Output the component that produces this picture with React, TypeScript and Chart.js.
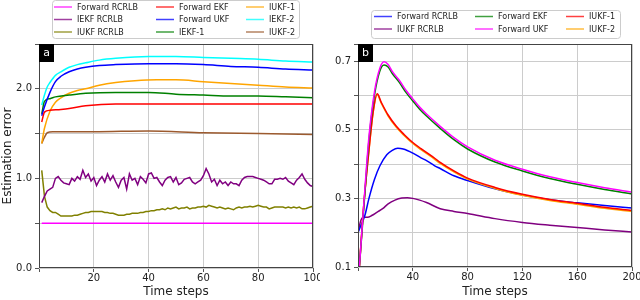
import React, { useEffect, useRef } from 'react';
import { Chart, registerables } from 'chart.js';
Chart.register(...registerables);
Chart.defaults.font.family = '"DejaVu Sans", sans-serif';

// ---------- Panel a data ----------
const stepsA = Array.from({ length: 100 }, (_, i) => i + 1);
const fwdRcrlbAX = [1, 100];
const fwdRcrlbAY = [0.5, 0.5];
const iekfRcrlbA = [
  0.73, 0.80, 0.86, 0.88, 0.90, 1.00, 1.02, 0.98, 0.95, 0.94,
  0.93, 1.00, 0.97, 1.02, 0.99, 1.09, 1.01, 1.05, 0.97, 1.01,
  0.92, 0.98, 1.02, 0.96, 1.05, 0.98, 1.03, 0.96, 0.90, 0.98,
  1.01, 0.88, 1.05, 0.98, 1.00, 0.93, 1.02, 0.99, 0.95, 1.05,
  1.06, 1.00, 1.01, 0.96, 0.92, 0.98, 1.01, 1.02, 0.96, 1.01,
  0.93, 0.95, 0.99, 1.00, 1.01, 0.96, 0.94, 0.96, 0.98, 1.03,
  1.11, 1.05, 0.96, 0.99, 0.92, 0.98, 0.94, 0.96, 0.92, 0.96,
  0.94, 0.94, 0.92, 0.98, 1.01, 1.02, 1.02, 1.02, 1.01, 1.00,
  0.99, 0.98, 0.96, 0.94, 0.94, 0.99, 0.99, 1.00, 0.99, 1.01,
  0.97, 0.95, 0.93, 0.98, 1.01, 1.05, 0.99, 0.95, 0.92, 0.91,
];
const iukfRcrlbA = [
  1.09, 0.80, 0.68, 0.64, 0.62, 0.62, 0.60, 0.58, 0.58, 0.58,
  0.58, 0.58, 0.59, 0.59, 0.60, 0.61, 0.62, 0.62, 0.63, 0.63,
  0.63, 0.63, 0.63, 0.62, 0.62, 0.61, 0.61, 0.60, 0.59, 0.59,
  0.59, 0.60, 0.60, 0.61, 0.61, 0.61, 0.62, 0.62, 0.63, 0.63,
  0.64, 0.64, 0.65, 0.65, 0.66, 0.65, 0.67, 0.66, 0.67, 0.68,
  0.66, 0.67, 0.67, 0.68, 0.66, 0.67, 0.67, 0.68, 0.68, 0.69,
  0.68, 0.70, 0.69, 0.68, 0.67, 0.68, 0.67, 0.66, 0.67, 0.66,
  0.65, 0.67, 0.68, 0.67, 0.68, 0.68, 0.69, 0.68, 0.69, 0.70,
  0.69, 0.68, 0.68, 0.66, 0.67, 0.68, 0.68, 0.68, 0.68, 0.67,
  0.68, 0.67, 0.68, 0.67, 0.68, 0.66, 0.66, 0.67, 0.68, 0.69,
];
const fwdEkfAX = [1, 2, 4, 8, 11, 17, 28, 40, 60, 80, 100];
const fwdEkfAY = [1.63, 1.74, 1.76, 1.77, 1.78, 1.81, 1.83, 1.83, 1.83, 1.83, 1.83];
const fwdUkfAX = [1, 2, 4, 6, 8, 11, 14, 17, 22, 28, 40, 50, 60, 70, 80, 90, 100];
const fwdUkfAY = [1.70, 1.80, 1.96, 2.08, 2.14, 2.19, 2.22, 2.24, 2.26, 2.27, 2.28, 2.28, 2.27, 2.25, 2.24, 2.22, 2.21];
const iekf1AX = [1, 2, 4, 6, 11, 17, 28, 40, 50, 60, 70, 80, 90, 100];
const iekf1AY = [1.72, 1.86, 1.89, 1.91, 1.93, 1.95, 1.96, 1.96, 1.94, 1.93, 1.92, 1.92, 1.91, 1.90];
const iukf1AX = [1, 2, 4, 6, 8, 11, 14, 17, 22, 28, 35, 43, 50, 60, 70, 80, 90, 100];
const iukf1AY = [1.39, 1.56, 1.75, 1.85, 1.90, 1.95, 1.98, 2.00, 2.04, 2.07, 2.09, 2.10, 2.10, 2.08, 2.06, 2.04, 2.02, 2.01];
const iekf2AX = [1, 2, 3, 4, 6, 8, 11, 14, 17, 22, 28, 40, 50, 60, 70, 80, 90, 100];
const iekf2AY = [1.82, 1.93, 2.02, 2.07, 2.15, 2.19, 2.24, 2.27, 2.29, 2.32, 2.34, 2.36, 2.36, 2.35, 2.34, 2.33, 2.31, 2.30];
const iukf2AX = [1, 2, 3, 5, 10, 20, 40, 60, 80, 100];
const iukf2AY = [1.39, 1.46, 1.51, 1.52, 1.52, 1.52, 1.53, 1.51, 1.50, 1.49];

// ---------- Panel b data ----------
const fwdRcrlbBX = [0, 2, 5, 8, 12, 16, 21, 25, 29, 33, 40, 46, 50, 56, 60, 70, 80, 100, 120, 140, 160, 180, 200];
const fwdRcrlbBY = [0.20, 0.22, 0.25, 0.30, 0.355, 0.395, 0.427, 0.44, 0.446, 0.444, 0.432, 0.418, 0.41, 0.395, 0.387, 0.366, 0.352, 0.328, 0.31, 0.296, 0.287, 0.279, 0.272];
const iukfRcrlbBX = [0, 2, 4, 7, 10, 14, 18, 22, 27, 32, 36, 40, 45, 50, 60, 70, 80, 100, 120, 140, 160, 180, 200];
const iukfRcrlbBY = [0.20, 0.235, 0.245, 0.245, 0.25, 0.26, 0.27, 0.284, 0.295, 0.301, 0.302, 0.30, 0.295, 0.288, 0.27, 0.262, 0.256, 0.241, 0.23, 0.222, 0.215, 0.208, 0.202];
const ukfFamilyBX = [1, 4, 8, 12, 16, 19, 22, 25, 30, 35, 40, 45, 50, 60, 70, 80, 100, 120, 140, 160, 180, 200];
const fwdUkfBY = [0.10, 0.27, 0.48, 0.61, 0.68, 0.698, 0.69, 0.67, 0.645, 0.615, 0.59, 0.566, 0.546, 0.51, 0.477, 0.45, 0.411, 0.385, 0.363, 0.346, 0.331, 0.318];
const fwdEkfBY = [0.10, 0.26, 0.47, 0.60, 0.672, 0.689, 0.683, 0.664, 0.639, 0.609, 0.584, 0.56, 0.54, 0.504, 0.471, 0.444, 0.406, 0.38, 0.358, 0.341, 0.326, 0.313];
const iukfBX = [1, 4, 8, 11, 14, 17, 22, 28, 34, 40, 46, 56, 60, 70, 80, 100, 120, 140, 160, 180, 200];
const iukf1BY = [0.10, 0.27, 0.44, 0.55, 0.605, 0.58, 0.543, 0.51, 0.485, 0.463, 0.445, 0.417, 0.405, 0.38, 0.359, 0.332, 0.312, 0.297, 0.286, 0.274, 0.265];
const iukf2BY = [0.10, 0.27, 0.44, 0.55, 0.602, 0.577, 0.54, 0.507, 0.482, 0.46, 0.442, 0.414, 0.402, 0.377, 0.356, 0.329, 0.309, 0.294, 0.283, 0.271, 0.262];

const pts = (xs: number[], ys: number[]) => ys.map((y, i) => ({ x: xs[i], y }));

const line = (label: string, color: string, data: any[], smooth = true, order = 0) => ({
  label,
  data,
  borderColor: color,
  backgroundColor: color,
  borderWidth: 1.5,
  pointRadius: 0,
  fill: false,
  cubicInterpolationMode: smooth ? 'monotone' : 'default',
  tension: 0,
  order,
});

const decorPlugin = {
  id: 'panelDecor',
  afterDatasetsDraw(chart: any, _args: any, opts: any) {
    const { ctx, chartArea: a } = chart;
    ctx.save();
    ctx.strokeStyle = '#444';
    ctx.lineWidth = 1;
    ctx.strokeRect(Math.round(a.left) + 0.5, Math.round(a.top) + 0.5, Math.round(a.right - a.left) - 1, Math.round(a.bottom - a.top) - 1);
    ctx.fillStyle = '#000';
    ctx.fillRect(a.left, a.top, 15, 18);
    ctx.fillStyle = '#fff';
    ctx.font = '11px "DejaVu Sans"';
    ctx.textAlign = 'center';
    ctx.textBaseline = 'middle';
    ctx.fillText(opts.tag, a.left + 7.5, a.top + 9);
    ctx.restore();
  },
  afterDraw(chart: any, _args: any, opts: any) {
    const { ctx } = chart;
    const L = opts.legend;
    ctx.save();
    ctx.fillStyle = 'rgba(255,255,255,0.85)';
    ctx.strokeStyle = '#cccccc';
    ctx.lineWidth = 1;
    ctx.beginPath();
    (ctx as any).roundRect(L.x + 0.5, L.y + 0.5, L.w, L.h, 3);
    ctx.fill();
    ctx.stroke();
    ctx.font = '8px "DejaVu Sans"';
    ctx.textAlign = 'left';
    ctx.textBaseline = 'middle';
    chart.data.datasets.forEach((ds: any, i: number) => {
      const col = Math.floor(i / L.rows.length);
      const row = i % L.rows.length;
      const tx = L.cols[col];
      const ty = L.rows[row];
      ctx.globalAlpha = 0.75;
      ctx.strokeStyle = ds.borderColor;
      ctx.lineWidth = 1.5;
      ctx.beginPath();
      ctx.moveTo(tx - 23, ty);
      ctx.lineTo(tx - 5, ty);
      ctx.stroke();
      ctx.globalAlpha = 1;
      ctx.fillStyle = '#222';
      ctx.fillText(ds.label, tx, ty + 0.5);
    });
    ctx.restore();
  },
};

function makeOptions(p: any) {
  return {
    responsive: false,
    animation: false,
    layout: { padding: { top: 44, right: p.padRight, left: 0, bottom: 0 } },
    plugins: {
      legend: { display: false },
      tooltip: { enabled: false },
      panelDecor: { tag: p.tag, legend: p.legend },
    },
    scales: {
      x: {
        type: 'linear',
        min: 0,
        max: p.xMax,
        border: { display: false },
        grid: { color: '#cccccc', tickColor: '#555', tickLength: 4 },
        ticks: {
          stepSize: p.xStep,
          padding: 0,
          color: '#222',
          font: { size: 10 },
          maxRotation: 0,
          autoSkip: false,
          callback: (v: number) => (v === 0 ? '' : String(v)),
        },
        title: { display: true, text: 'Time steps', color: '#222', font: { size: 12 }, padding: { top: 0, bottom: 1 } },
        afterFit: (s: any) => { s.height = p.xHeight; s.paddingLeft = 0; s.paddingRight = 0; },
      },
      y: {
        min: p.yMin,
        max: p.yMax,
        border: { display: false },
        grid: { color: '#cccccc', tickColor: '#555', tickLength: 4 },
        ticks: {
          stepSize: p.yStep,
          padding: 3,
          color: '#222',
          font: { size: 10 },
          autoSkip: false,
          callback: p.yCallback,
        },
        title: { display: !!p.yTitle, text: p.yTitle || '', color: '#222', font: { size: 12 }, padding: { top: 1, bottom: 0 } },
        afterFit: (s: any) => { s.width = p.yWidth; s.paddingTop = 0; s.paddingBottom = 0; },
      },
    },
  };
}

function Panel({ config }: { config: any }) {
  const ref = useRef<HTMLCanvasElement | null>(null);
  useEffect(() => {
    if (!ref.current) return;
    const chart = new Chart(ref.current, { ...config, plugins: [decorPlugin] } as any);
    return () => chart.destroy();
  }, []);
  return <canvas ref={ref} width={320} height={300} style={{ display: 'block', width: 320, height: 300 }} />;
}

const configA = {
  type: 'line',
  data: {
    datasets: [
      line('Forward RCRLB', '#ff00ff', pts(fwdRcrlbAX, fwdRcrlbAY), false, 1),
      line('IEKF RCRLB', '#800080', pts(stepsA, iekfRcrlbA), false, 2),
      line('IUKF RCRLB', '#808000', pts(stepsA, iukfRcrlbA), false, 3),
      line('Forward EKF', '#ff0000', pts(fwdEkfAX, fwdEkfAY), true, 4),
      line('Forward UKF', '#0000ff', pts(fwdUkfAX, fwdUkfAY), true, 5),
      line('IEKF-1', '#008000', pts(iekf1AX, iekf1AY), true, 6),
      line('IUKF-1', '#ffa500', pts(iukf1AX, iukf1AY), true, 7),
      line('IEKF-2', '#00ffff', pts(iekf2AX, iekf2AY), true, 8),
      line('IUKF-2', '#9c5a2e', pts(iukf2AX, iukf2AY), true, 9),
    ],
  },
  options: makeOptions({
    tag: 'a',
    padRight: 7,
    xMax: 100,
    xStep: 20,
    xHeight: 32,
    yMin: 0,
    yMax: 2.5,
    yStep: 0.5,
    yWidth: 39,
    yTitle: 'Estimation error',
    yCallback: (v: number) => (Math.abs(v - Math.round(v)) < 1e-6 ? v.toFixed(1) : ''),
    legend: { x: 52, y: 0, w: 247, h: 38, cols: [77, 179, 269], rows: [7, 19.5, 32] },
  }),
};

const configB = {
  type: 'line',
  data: {
    datasets: [
      line('Forward RCRLB', '#0000ff', pts(fwdRcrlbBX, fwdRcrlbBY), true, 5),
      line('IUKF RCRLB', '#800080', pts(iukfRcrlbBX, iukfRcrlbBY), true, 6),
      line('Forward EKF', '#008000', pts(ukfFamilyBX, fwdEkfBY), true, 2),
      line('Forward UKF', '#ff00ff', pts(ukfFamilyBX, fwdUkfBY), true, 1),
      line('IUKF-1', '#ff0000', pts(iukfBX, iukf1BY), true, 3),
      line('IUKF-2', '#ffa500', pts(iukfBX, iukf2BY), true, 4),
    ],
  },
  options: makeOptions({
    tag: 'b',
    padRight: 8,
    xMax: 200,
    xStep: 40,
    xHeight: 33,
    yMin: 0.1,
    yMax: 0.75,
    yStep: 0.1,
    yWidth: 38,
    yTitle: '',
    yCallback: (v: number) => {
      const k = Math.round(v * 100);
      return k % 10 === 0 && (k / 10) % 2 === 1 ? v.toFixed(1) : '';
    },
    legend: { x: 51, y: 10, w: 249, h: 28, cols: [77, 178, 269], rows: [16.5, 29] },
  }),
};

export default function App() {
  return (
    <div style={{ position: 'fixed', left: 0, top: 0, width: 640, height: 300, display: 'flex', background: '#fff' }}>
      <Panel config={configA} />
      <Panel config={configB} />
    </div>
  );
}
